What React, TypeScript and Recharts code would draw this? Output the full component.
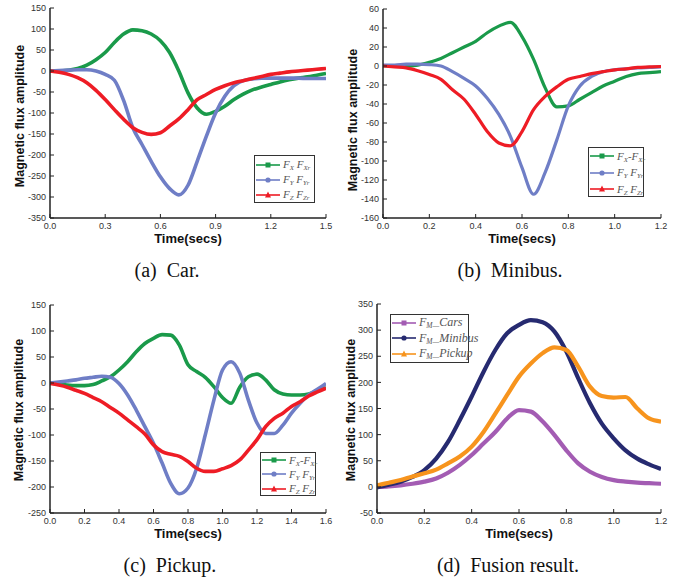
import React from 'react';
import { LineChart, Line, XAxis, YAxis } from 'recharts';

// sample times (secs)
const carTime = [0, 0.05, 0.1, 0.15, 0.2, 0.25, 0.3, 0.35, 0.4, 0.45, 0.5, 0.55, 0.6, 0.65, 0.7, 0.75, 0.8, 0.85, 0.9, 0.95, 1.0, 1.05, 1.1, 1.15, 1.2, 1.25, 1.3, 1.35, 1.4, 1.45, 1.5];
const busTime = [0, 0.05, 0.1, 0.15, 0.2, 0.25, 0.3, 0.35, 0.4, 0.45, 0.5, 0.55, 0.6, 0.65, 0.7, 0.75, 0.8, 0.85, 0.9, 0.95, 1.0, 1.05, 1.1, 1.15, 1.2];
const pickupTime = [0, 0.05, 0.1, 0.15, 0.2, 0.25, 0.3, 0.35, 0.4, 0.45, 0.5, 0.55, 0.6, 0.65, 0.7, 0.75, 0.8, 0.85, 0.9, 0.95, 1.0, 1.05, 1.1, 1.15, 1.2, 1.25, 1.3, 1.35, 1.4, 1.45, 1.5, 1.55, 1.6];
const fusionTime = busTime;

// (a) car
const carFX = [0, 0, 2, 6, 14, 27, 44, 68, 88, 98, 96, 88, 72, 44, 0, -52, -88, -103, -96, -84, -68, -55, -45, -38, -32, -26, -21, -17, -14, -10, -6];
const carFY = [0, 1, 2, 3, 3, 0, -8, -22, -70, -135, -175, -215, -252, -280, -295, -272, -215, -155, -100, -60, -35, -23, -19, -17, -17, -17, -17, -17, -18, -18, -18];
const carFZ = [0, -3, -8, -16, -28, -46, -68, -92, -115, -135, -146, -151, -147, -131, -114, -92, -68, -56, -44, -35, -28, -23, -18, -13, -8, -5, -2, 0, 2, 4, 6];

// (b) minibus
const busFX = [0, 0, 0, 1, 4, 8, 14, 20, 26, 35, 42, 46, 31, 7, -23, -43, -42, -35, -28, -21, -16, -11, -8, -7, -6];
const busFY = [1, 1, 2, 2, 1.5, 0, -6, -13, -21, -34, -51, -74, -107, -135, -112, -78, -42, -21, -11, -6, -4, -3, -2, -1.5, -1];
const busFZ = [0, -1, -2, -5, -9, -14, -25, -35, -51, -69, -81, -84, -69, -46, -32, -22, -14, -11, -8, -6, -4, -3, -1.5, -1, -0.5];

// (c) pickup
const pickupFX = [0, -2, -4, -5, -5, -3, 4, 12, 25, 41, 60, 76, 86, 93, 92, 73, 35, 22, 11, -7, -28, -39, -8, 12, 17, 6, -13, -21, -23, -23, -21, -15, -9];
const pickupFY = [0, 2, 4, 6, 9, 11, 13, 11, -1, -23, -52, -84, -116, -154, -193, -213, -202, -164, -100, -33, 25, 41, 19, -33, -77, -97, -97, -81, -58, -39, -23, -12, -1];
const pickupFZ = [-1, -4, -8, -14, -20, -28, -36, -47, -58, -71, -84, -98, -119, -132, -137, -141, -151, -164, -170, -170, -165, -159, -148, -129, -109, -84, -68, -58, -45, -36, -25, -17, -10];

// (d) fusion
const fusionCars = [0, 1, 3, 6, 10, 16, 27, 42, 61, 83, 105, 131, 147, 144, 125, 99, 70, 45, 29, 19, 13, 10, 8, 7, 6];
const fusionMinibus = [-1, 4, 10, 19, 32, 54, 86, 128, 173, 220, 262, 294, 310, 319, 315, 297, 259, 208, 160, 121, 93, 70, 54, 43, 34];
const fusionPickup = [3, 8, 13, 20, 26, 33, 45, 58, 77, 105, 140, 176, 211, 236, 256, 267, 262, 230, 192, 174, 171, 172, 150, 131, 125];

// ticks
const carXTicks = [0, 0.3, 0.6, 0.9, 1.2, 1.5];
const carYTicks = [-350, -300, -250, -200, -150, -100, -50, 0, 50, 100, 150];
const busXTicks = [0, 0.2, 0.4, 0.6, 0.8, 1.0, 1.2];
const busYTicks = [-160, -140, -120, -100, -80, -60, -40, -20, 0, 20, 40, 60];
const pickupXTicks = [0, 0.2, 0.4, 0.6, 0.8, 1.0, 1.2, 1.4, 1.6];
const pickupYTicks = [-250, -200, -150, -100, -50, 0, 50, 100, 150];
const fusionXTicks = busXTicks;
const fusionYTicks = [-50, 0, 50, 100, 150, 200, 250, 300, 350];

const GREEN = '#1a9a4a';
const BLUE = '#6f7ec6';
const RED = '#ee1c25';
const PURPLE = '#a35cb3';
const NAVY = '#262a70';
const ORANGE = '#f7941d';

const SANS = '"Liberation Sans", Arial, sans-serif';
const SERIF = '"Liberation Serif", "Times New Roman", serif';

type Marker = 'square' | 'circle' | 'triangle';
type Series = { key: string; label: React.ReactNode; color: string; marker: Marker; values: number[] };

function MarkerIcon({ shape, color }: { shape: Marker; color: string }) {
  if (shape === 'square') return <rect x={9.5} y={2.5} width={5} height={5} fill={color} />;
  if (shape === 'circle') return <circle cx={12} cy={5} r={2.6} fill={color} />;
  return <polygon points="12,1.5 15,7.5 9,7.5" fill={color} />;
}

function LegendBox({ left, top, width, height, rowH, padTop, fontSize, series }: {
  left: number; top: number; width: number; height: number; rowH: number; padTop: number; fontSize: number; series: Series[];
}) {
  return (
    <div
      style={{
        position: 'absolute', left, top, width, height, boxSizing: 'border-box',
        border: '1.2px solid #333', background: '#fff', paddingTop: padTop, paddingLeft: 1,
        fontFamily: SERIF, fontStyle: 'italic', fontSize, color: '#555',
      }}
    >
      {series.map((s) => (
        <div key={s.key} style={{ display: 'flex', alignItems: 'center', height: rowH, whiteSpace: 'nowrap' }}>
          <svg width={24} height={10} style={{ marginRight: 3, flex: 'none' }}>
            <line x1={0} y1={5} x2={24} y2={5} stroke={s.color} strokeWidth={1.6} />
            <MarkerIcon shape={s.marker} color={s.color} />
          </svg>
          <span>{s.label}</span>
        </div>
      ))}
    </div>
  );
}

const sub = (t: string) => <sub style={{ fontSize: '0.62em', verticalAlign: '-0.3em' }}>{t}</sub>;

type PanelProps = {
  left: number; top: number; width: number; height: number;
  margin: { top: number; right: number; left: number; bottom: number };
  yWidth: number;
  time: number[];
  series: Series[];
  lineWidth: number;
  xTicks: number[]; yTicks: number[];
  xDomain: [number, number]; yDomain: [number, number];
  yTitle: { x: number; y: number };
  legend: { left: number; top: number; width: number; height: number; rowH: number; padTop: number; fontSize: number };
};

function Panel(p: PanelProps) {
  const rows = p.time.map((t, i) => {
    const r: Record<string, number> = { t };
    p.series.forEach((s) => { r[s.key] = s.values[i]; });
    return r;
  });
  const tickStyle = { fontSize: 9, fill: '#333', fontFamily: SANS };
  return (
    <div style={{ position: 'absolute', left: p.left, top: p.top, width: p.width, height: p.height }}>
      <LineChart width={p.width} height={p.height} data={rows} margin={p.margin}>
        <XAxis
          dataKey="t" type="number" domain={p.xDomain} ticks={p.xTicks} allowDataOverflow
          tickFormatter={(v: number) => v.toFixed(1)} height={32}
          tick={tickStyle} tickSize={-4} tickMargin={9}
          axisLine={{ stroke: '#222', strokeWidth: 1.5 }} tickLine={{ stroke: '#222' }}
          label={{ value: 'Time(secs)', position: 'insideBottom', offset: 7, fontSize: 13, fontWeight: 'bold', fill: '#111', fontFamily: SANS }}
        />
        <XAxis xAxisId="top" dataKey="t" type="number" domain={p.xDomain} orientation="top" height={0} tick={false} tickLine={false} axisLine={{ stroke: '#777', strokeWidth: 2 }} />
        <YAxis
          type="number" domain={p.yDomain} ticks={p.yTicks} allowDataOverflow width={p.yWidth}
          tick={tickStyle} tickSize={-4} tickMargin={8}
          axisLine={{ stroke: '#222', strokeWidth: 1.5 }} tickLine={{ stroke: '#222' }}
        />
        <YAxis yAxisId="right" type="number" domain={p.yDomain} orientation="right" width={0} tick={false} tickLine={false} axisLine={{ stroke: '#888', strokeWidth: 2 }} />
        {p.series.map((s) => (
          <Line key={s.key} type="monotone" dataKey={s.key} stroke={s.color} strokeWidth={p.lineWidth} dot={false} isAnimationActive={false} />
        ))}
      </LineChart>
      <div
        style={{
          position: 'absolute', left: p.yTitle.x, top: p.yTitle.y, transform: 'translate(-50%, -50%) rotate(-90deg)',
          whiteSpace: 'nowrap', fontFamily: SANS, fontWeight: 'bold', fontSize: 12.5, color: '#111',
        }}
      >
        Magnetic flux amplitude
      </div>
      <LegendBox {...p.legend} series={p.series} />
    </div>
  );
}

function Caption({ cx, top, text }: { cx: number; top: number; text: string }) {
  return (
    <div style={{ position: 'absolute', left: cx - 120, top, width: 240, textAlign: 'center', fontFamily: SERIF, fontSize: 20, lineHeight: '20px', whiteSpace: 'pre', color: '#111' }}>
      {text}
    </div>
  );
}

export default function App() {
  const carSeries: Series[] = [
    { key: 'fx', label: <>F{sub('X')} F{sub('Xr')}</>, color: GREEN, marker: 'square', values: carFX },
    { key: 'fy', label: <>F{sub('Y')} F{sub('Yr')}</>, color: BLUE, marker: 'circle', values: carFY },
    { key: 'fz', label: <>F{sub('Z')} F{sub('Zr')}</>, color: RED, marker: 'triangle', values: carFZ },
  ];
  const busSeries: Series[] = [
    { key: 'fx', label: <>F{sub('X')}-F{sub('Xr')}</>, color: GREEN, marker: 'square', values: busFX },
    { key: 'fy', label: <>F{sub('Y')} F{sub('Yr')}</>, color: BLUE, marker: 'circle', values: busFY },
    { key: 'fz', label: <>F{sub('Z')} F{sub('Zr')}</>, color: RED, marker: 'triangle', values: busFZ },
  ];
  const pickupSeries: Series[] = [
    { key: 'fx', label: <>F{sub('X')}-F{sub('Xr')}</>, color: GREEN, marker: 'square', values: pickupFX },
    { key: 'fy', label: <>F{sub('Y')} F{sub('Yr')}</>, color: BLUE, marker: 'circle', values: pickupFY },
    { key: 'fz', label: <>F{sub('Z')} F{sub('Zr')}</>, color: RED, marker: 'triangle', values: pickupFZ },
  ];
  const fusionSeries: Series[] = [
    { key: 'cars', label: <>F{sub('M—')}Cars</>, color: PURPLE, marker: 'square', values: fusionCars },
    { key: 'minibus', label: <>F{sub('M—')}Minibus</>, color: NAVY, marker: 'circle', values: fusionMinibus },
    { key: 'pickup', label: <>F{sub('M—')}Pickup</>, color: ORANGE, marker: 'triangle', values: fusionPickup },
  ];

  return (
    <div style={{ position: 'absolute', left: 0, top: 0, width: 683, height: 581, background: '#fff', overflow: 'hidden' }}>
      <Panel
        left={0} top={0} width={340} height={250}
        margin={{ top: 8, right: 14, left: 0, bottom: 0 }} yWidth={50}
        time={carTime} series={carSeries} lineWidth={3.6}
        xTicks={carXTicks} yTicks={carYTicks} xDomain={[0, 1.5]} yDomain={[-350, 150]}
        yTitle={{ x: 20, y: 116 }}
        legend={{ left: 254, top: 155, width: 61, height: 48, rowH: 15, padTop: 1, fontSize: 11 }}
      />
      <Panel
        left={340} top={0} width={343} height={250}
        margin={{ top: 9, right: 22, left: 0, bottom: 0 }} yWidth={43}
        time={busTime} series={busSeries} lineWidth={3.2}
        xTicks={busXTicks} yTicks={busYTicks} xDomain={[0, 1.2]} yDomain={[-160, 60]}
        yTitle={{ x: 13, y: 120 }}
        legend={{ left: 248, top: 147, width: 56, height: 50, rowH: 16.5, padTop: 0, fontSize: 11 }}
      />
      <Panel
        left={0} top={297} width={340} height={248}
        margin={{ top: 8, right: 14, left: 0, bottom: 0 }} yWidth={50}
        time={pickupTime} series={pickupSeries} lineWidth={3.6}
        xTicks={pickupXTicks} yTicks={pickupYTicks} xDomain={[0, 1.6]} yDomain={[-250, 150]}
        yTitle={{ x: 19, y: 113 }}
        legend={{ left: 260, top: 155, width: 56, height: 44, rowH: 14.3, padTop: 0, fontSize: 11 }}
      />
      <Panel
        left={340} top={296} width={343} height={249}
        margin={{ top: 8, right: 22, left: 0, bottom: 0 }} yWidth={37}
        time={fusionTime} series={fusionSeries} lineWidth={4.2}
        xTicks={fusionXTicks} yTicks={fusionYTicks} xDomain={[0, 1.2]} yDomain={[-50, 350]}
        yTitle={{ x: 11, y: 114 }}
        legend={{ left: 50, top: 18, width: 79, height: 49, rowH: 15.5, padTop: 0, fontSize: 12 }}
      />
      <Caption cx={167} top={260} text="(a)  Car." />
      <Caption cx={510} top={260} text="(b)  Minibus." />
      <Caption cx={170} top={555} text="(c)  Pickup." />
      <Caption cx={508} top={555} text="(d)  Fusion result." />
    </div>
  );
}
